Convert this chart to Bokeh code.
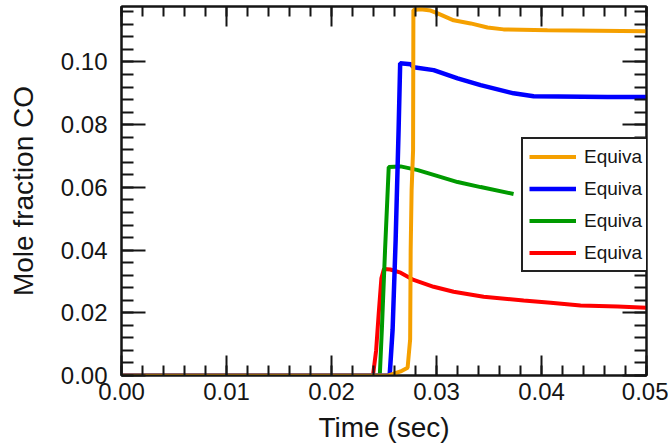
from bokeh.plotting import figure
from bokeh.models import (LinearAxis, SingleIntervalTicker, PrintfTickFormatter,
                          CustomJSTickFormatter, Range1d, Legend, LegendItem)
from bokeh.embed import file_html
from bokeh.resources import INLINE

# ---- data ----
t_red = [0.0, 0.02395, 0.02425, 0.02450, 0.02475, 0.02500, 0.02560, 0.02658, 0.02782,
         0.02973, 0.03163, 0.03449, 0.03830, 0.04087, 0.04372, 0.04725, 0.05000]
v_red = [0.0, 0.0, 0.0080, 0.0200, 0.0310, 0.0340, 0.0338, 0.0328, 0.0305,
         0.0283, 0.0267, 0.0251, 0.0239, 0.0232, 0.0223, 0.0220, 0.0216]

t_green = [0.0, 0.02460, 0.02480, 0.02510, 0.02530, 0.02545, 0.02658, 0.02822,
           0.02973, 0.03201, 0.03420, 0.03734]
v_green = [0.0, 0.0, 0.0150, 0.0400, 0.0550, 0.0665, 0.0667, 0.0655,
           0.0640, 0.0617, 0.0601, 0.0579]

t_blue = [0.0, 0.02554, 0.02582, 0.02611, 0.02639, 0.02654, 0.02754, 0.02782, 0.02973,
          0.03201, 0.03420, 0.03734, 0.03925, 0.04629, 0.05000]
v_blue = [0.0, 0.0, 0.0146, 0.0433, 0.0783, 0.0996, 0.0993, 0.0983, 0.0974,
          0.0948, 0.0926, 0.0900, 0.0891, 0.0888, 0.0888]

t_orange = [0.0, 0.02544, 0.02658, 0.02725, 0.02749, 0.02754, 0.02763, 0.02777, 0.02780,
            0.02849, 0.02944, 0.03011, 0.03163, 0.03325, 0.03486, 0.03639, 0.04057, 0.05000]
v_orange = [0.0, 0.0, 0.0013, 0.0025, 0.0115, 0.0400, 0.0592, 0.0719, 0.1166,
            0.1168, 0.1164, 0.1155, 0.1133, 0.1123, 0.1110, 0.1104, 0.1101, 0.1098]

legend_labels = ["Equiva", "Equiva", "Equiva", "Equiva"]

X_MIN, X_MAX = 0.0, 0.05
Y_MIN, Y_MAX = 0.0, 0.1177

INK = "#151515"
FONT = "Liberation Sans"

p = figure(width=668, height=445, output_backend="svg", toolbar_location=None,
           x_range=Range1d(X_MIN, X_MAX), y_range=Range1d(Y_MIN, Y_MAX),
           min_border_left=121, min_border_right=22, min_border_top=6,
           min_border_bottom=69, background_fill_color="white",
           border_fill_color="white")
p.xgrid.visible = False
p.ygrid.visible = False
p.outline_line_color = INK
p.outline_line_width = 2

x_ticker = SingleIntervalTicker(interval=0.01, num_minor_ticks=5)
y_ticker = SingleIntervalTicker(interval=0.02, num_minor_ticks=5)


def style(ax, major_in, minor_in, labels=True):
    ax.axis_line_color = INK
    ax.axis_line_width = 2
    ax.major_tick_in = major_in
    ax.major_tick_out = 0
    ax.minor_tick_in = minor_in
    ax.minor_tick_out = 0
    ax.major_tick_line_color = INK
    ax.minor_tick_line_color = INK
    ax.major_tick_line_width = 2
    ax.minor_tick_line_width = 2
    ax.major_label_text_font = FONT
    ax.major_label_text_color = INK
    ax.axis_label_text_font = FONT
    ax.axis_label_text_font_style = "normal"
    ax.axis_label_text_color = INK
    ax.major_label_text_font_size = "24px"
    ax.axis_label_text_font_size = "28px"
    if not labels:
        ax.formatter = CustomJSTickFormatter(code="return ''")
        ax.major_label_standoff = 0


xa = p.xaxis[0]
xa.ticker = x_ticker
xa.formatter = PrintfTickFormatter(format="%.2f")
xa.axis_label = "Time (sec)"
style(xa, 20, 10)
xa.major_label_standoff = 7
xa.axis_label_standoff = 9

ya = p.yaxis[0]
ya.ticker = y_ticker
ya.formatter = PrintfTickFormatter(format="%.2f")
ya.axis_label = "Mole fraction CO"
style(ya, 24, 12)
ya.major_label_standoff = 14
ya.axis_label_standoff = 19

top = LinearAxis(ticker=x_ticker)
style(top, 20, 10, labels=False)
p.add_layout(top, "above")

right = LinearAxis(ticker=y_ticker)
style(right, 24, 12, labels=False)
p.add_layout(right, "right")

r_red = p.line(t_red, v_red, line_color="#FF0000", line_width=4)
r_green = p.line(t_green, v_green, line_color="#009A00", line_width=4)
r_blue = p.line(t_blue, v_blue, line_color="#0000FF", line_width=4.5)
r_orange = p.line(t_orange, v_orange, line_color="#F5A000", line_width=4)

legend = Legend(items=[LegendItem(label=legend_labels[0], renderers=[r_orange]),
                       LegendItem(label=legend_labels[1], renderers=[r_blue]),
                       LegendItem(label=legend_labels[2], renderers=[r_green]),
                       LegendItem(label=legend_labels[3], renderers=[r_red])],
                location=(400, 103))
legend.glyph_width = 47
legend.glyph_height = 23
legend.label_height = 23
legend.label_standoff = 8
legend.spacing = 9
legend.padding = 6
legend.margin = 0
legend.label_width = 0
legend.border_line_color = "#222222"
legend.border_line_alpha = 1.0
legend.border_line_width = 2
legend.background_fill_color = "white"
legend.background_fill_alpha = 1
legend.label_text_font = FONT
legend.label_text_font_size = "19px"
legend.label_text_color = INK
p.add_layout(legend, "center")

open("out.html", "w").write(file_html(p, INLINE))
